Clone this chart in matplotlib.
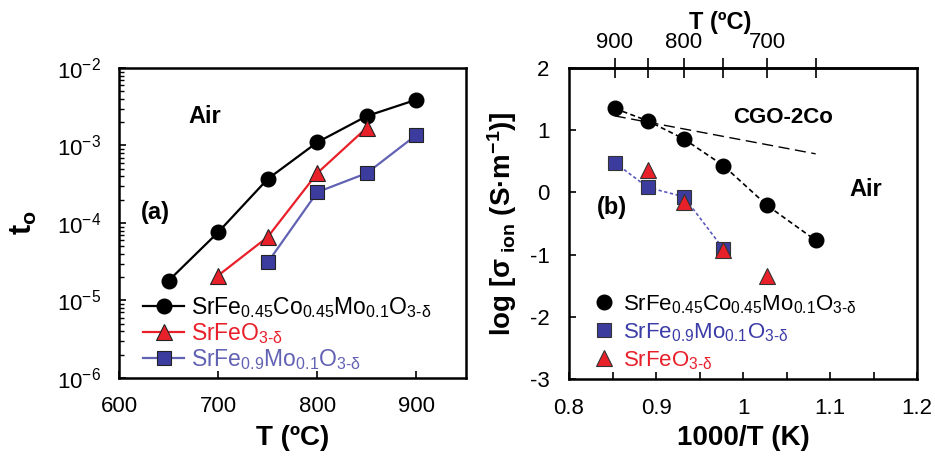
import matplotlib
matplotlib.use("Agg")
import matplotlib.pyplot as plt
import numpy as np
from matplotlib.ticker import FixedLocator, FuncFormatter, LogLocator, NullFormatter, MultipleLocator

plt.rcParams['font.family'] = ['Liberation Sans', 'DejaVu Sans']
plt.rcParams['mathtext.fontset'] = 'custom'
plt.rcParams['mathtext.rm'] = 'Liberation Sans'
plt.rcParams['mathtext.it'] = 'Liberation Sans:italic'
plt.rcParams['mathtext.bf'] = 'Liberation Sans:bold'
plt.rcParams['axes.unicode_minus'] = False

# ---- Panel (a) data: oxygen-ion transference number vs T (°C)
T_sfcm = [650, 700, 750, 800, 850, 900]
to_sfcm = [1.8e-5, 7.6e-5, 3.7e-4, 1.1e-3, 2.4e-3, 3.9e-3]
T_sf = [700, 750, 800, 850]
to_sf = [2.1e-5, 6.6e-5, 4.4e-4, 1.7e-3]
T_sfm = [750, 800, 850, 900]
to_sfm = [3.1e-5, 2.5e-4, 4.4e-4, 1.37e-3]

# ---- Panel (b) data: log ionic conductivity vs 1000/T
Tb_sfcm = [900, 850, 800, 750, 700, 650]
log_sfcm = [1.35, 1.15, 0.86, 0.43, -0.21, -0.77]
Tb_sfm = [900, 850, 800, 750]
log_sfm = [0.48, 0.08, -0.07, -0.91]
Tb_sf = [850, 800, 750, 700]
log_sf = [0.36, -0.15, -0.92, -1.35]
Tb_cgo = [900, 650]
log_cgo = [1.23, 0.62]
top_ticks = [900, 850, 800, 750, 700, 650]
top_labels = ['900', '', '800', '', '700', '']

HY = '\u2010'
lab_sfcm = r'SrFe$_{\mathregular{0.45}}$Co$_{\mathregular{0.45}}$Mo$_{\mathregular{0.1}}$O$_{\mathregular{3' + HY + r' δ}}$'
lab_sf = r'SrFeO$_{\mathregular{3' + HY + r'δ}}$'
lab_sfm = r'SrFe$_{\mathregular{0.9}}$Mo$_{\mathregular{0.1}}$O$_{\mathregular{3' + HY + r'δ}}$'

BLACK = '#000000'
RED = '#e8202a'
BLUE_LINE = '#6262b4'
BLUE_SQ = '#3c3c9e'
BLUE_TXT = '#3c3ca8'

def invT(t):
    return 1000.0 / (np.asarray(t, dtype=float) + 273.0)

fig = plt.figure(figsize=(9.35, 4.57), dpi=100)
ax1 = fig.add_axes([0.1273, 0.1729, 0.3711, 0.6783])
ax2 = fig.add_axes([0.6086, 0.1707, 0.3722, 0.6805])

# ---------- Panel (a)
ax1.plot(T_sfcm, to_sfcm, '-o', color=BLACK, lw=1.6, ms=10.5, mfc=BLACK, mec=BLACK, label=lab_sfcm)
ax1.plot(T_sf, to_sf, '-^', color=RED, lw=1.6, ms=11, mfc=RED, mec='#222222', mew=0.8, label=lab_sf)
ax1.plot(T_sfm, to_sfm, '-s', color=BLUE_LINE, lw=1.6, ms=9.5, mfc=BLUE_SQ, mec='#222222', mew=0.8, label=lab_sfm)
ax1.set_yscale('log')
ax1.set_xlim(600, 950)
ax1.set_ylim(1e-6, 1e-2)
ax1.xaxis.set_major_locator(FixedLocator([600, 700, 800, 900]))
ax1.yaxis.set_major_locator(LogLocator(base=10, numticks=10))
ax1.yaxis.set_minor_locator(LogLocator(base=10, subs=np.arange(2, 10), numticks=20))
ax1.yaxis.set_minor_formatter(NullFormatter())
ax1.yaxis.set_major_formatter(FuncFormatter(lambda v, p: r'10$^{\mathregular{%d}}$' % int(round(np.log10(v)))))
ax1.tick_params(axis='both', which='major', direction='in', length=5, width=1.2, labelsize=16, pad=13)
ax1.tick_params(axis='y', which='minor', direction='in', length=3.5, width=1.0)
ax1.set_xlabel('T (ºC)', fontsize=20, fontweight='bold', labelpad=6)
ax1.set_ylabel(r't$_{\mathbf{o}}$', fontsize=22, fontweight='bold', labelpad=13)
ax1.text(0.248, 0.842, 'Air', transform=ax1.transAxes, fontsize=17, fontweight='bold', ha='center', va='center')
ax1.text(0.104, 0.535, '(a)', transform=ax1.transAxes, fontsize=17, fontweight='bold', ha='center', va='center')
leg1 = ax1.legend(loc='lower left', bbox_to_anchor=(0.03, -0.025), frameon=False, fontsize=16.5,
                  handlelength=1.8, handletextpad=0.3, labelspacing=0.05, labelcolor='linecolor',
                  borderaxespad=0.2)

# ---------- Panel (b)
ax2.plot(invT(Tb_cgo), log_cgo, linestyle=(0, (8, 4)), color=BLACK, lw=1.0)
ax2.plot(invT(Tb_sfcm), log_sfcm, linestyle=(0, (3, 2)), color=BLACK, lw=1.2)
ax2.plot(invT(Tb_sfm), log_sfm, linestyle=(0, (2, 1.5)), color='#5a5ac0', lw=1.2)
ax2.plot(invT(Tb_sfcm), log_sfcm, 'o', color=BLACK, ms=10.5, label=lab_sfcm)
ax2.plot(invT(Tb_sfm), log_sfm, 's', mfc=BLUE_SQ, mec='#333333', mew=0.8, ms=9.5, label=lab_sfm)
ax2.plot(invT(Tb_sf), log_sf, '^', mfc=RED, mec='#333333', mew=0.8, ms=11, label=lab_sf)
ax2.set_xlim(0.8, 1.2)
ax2.set_ylim(-3, 2)
ax2.xaxis.set_major_locator(MultipleLocator(0.1))
ax2.xaxis.set_minor_locator(MultipleLocator(0.05))
ax2.xaxis.set_major_formatter(FuncFormatter(lambda v, p: ('%g' % round(v, 2))))
ax2.yaxis.set_major_locator(MultipleLocator(1))
ax2.tick_params(axis='both', which='major', direction='in', length=5, width=1.2, labelsize=16, pad=14)
ax2.tick_params(axis='x', which='minor', direction='in', length=5, width=1.2)
ax2.set_xlabel('1000/T (K)', fontsize=20, fontweight='bold', labelpad=4)
ax2.set_ylabel(r'log [σ$_{\mathbf{\ ion}}$ (S·m$^{\mathbf{-1}}$)]', fontsize=20, fontweight='bold', labelpad=8)
ax2.text(0.614, 0.842, 'CGO-2Co', transform=ax2.transAxes, fontsize=16, fontweight='bold', ha='center', va='center')
ax2.text(0.853, 0.608, 'Air', transform=ax2.transAxes, fontsize=17, fontweight='bold', ha='center', va='center')
ax2.text(0.123, 0.55, '(b)', transform=ax2.transAxes, fontsize=17, fontweight='bold', ha='center', va='center')
leg2 = ax2.legend(loc='lower left', bbox_to_anchor=(0.03, -0.02), frameon=False, fontsize=16,
                  handlelength=1.0, handletextpad=0.35, labelspacing=0.25, labelcolor='markerfacecolor',
                  borderaxespad=0.2)
for t, c in zip(leg2.get_texts(), [BLACK, BLUE_TXT, RED]):
    t.set_color(c)

sec = ax2.secondary_xaxis('top', functions=(lambda x: 1000.0 / np.asarray(x, dtype=float) - 273.0,
                                            lambda t: 1000.0 / (np.asarray(t, dtype=float) + 273.0)))
sec.xaxis.set_major_locator(FixedLocator(top_ticks))
sec.xaxis.set_major_formatter(FuncFormatter(lambda v, p: top_labels[top_ticks.index(int(round(v)))] if int(round(v)) in top_ticks else ''))
sec.tick_params(axis='x', which='major', direction='inout', length=14, width=1.2, labelsize=16, pad=4)
sec.set_xlabel('T (ºC)', fontsize=17, fontweight='bold')
sec.xaxis.set_label_coords(0.434, 1.145, transform=ax2.transAxes)
sec.xaxis.label.set_va('center')

for ax in (ax1, ax2):
    for s in ax.spines.values():
        s.set_linewidth(1.8)
sec.spines['top'].set_linewidth(1.8)

fig.savefig('out.png', dpi=100)
